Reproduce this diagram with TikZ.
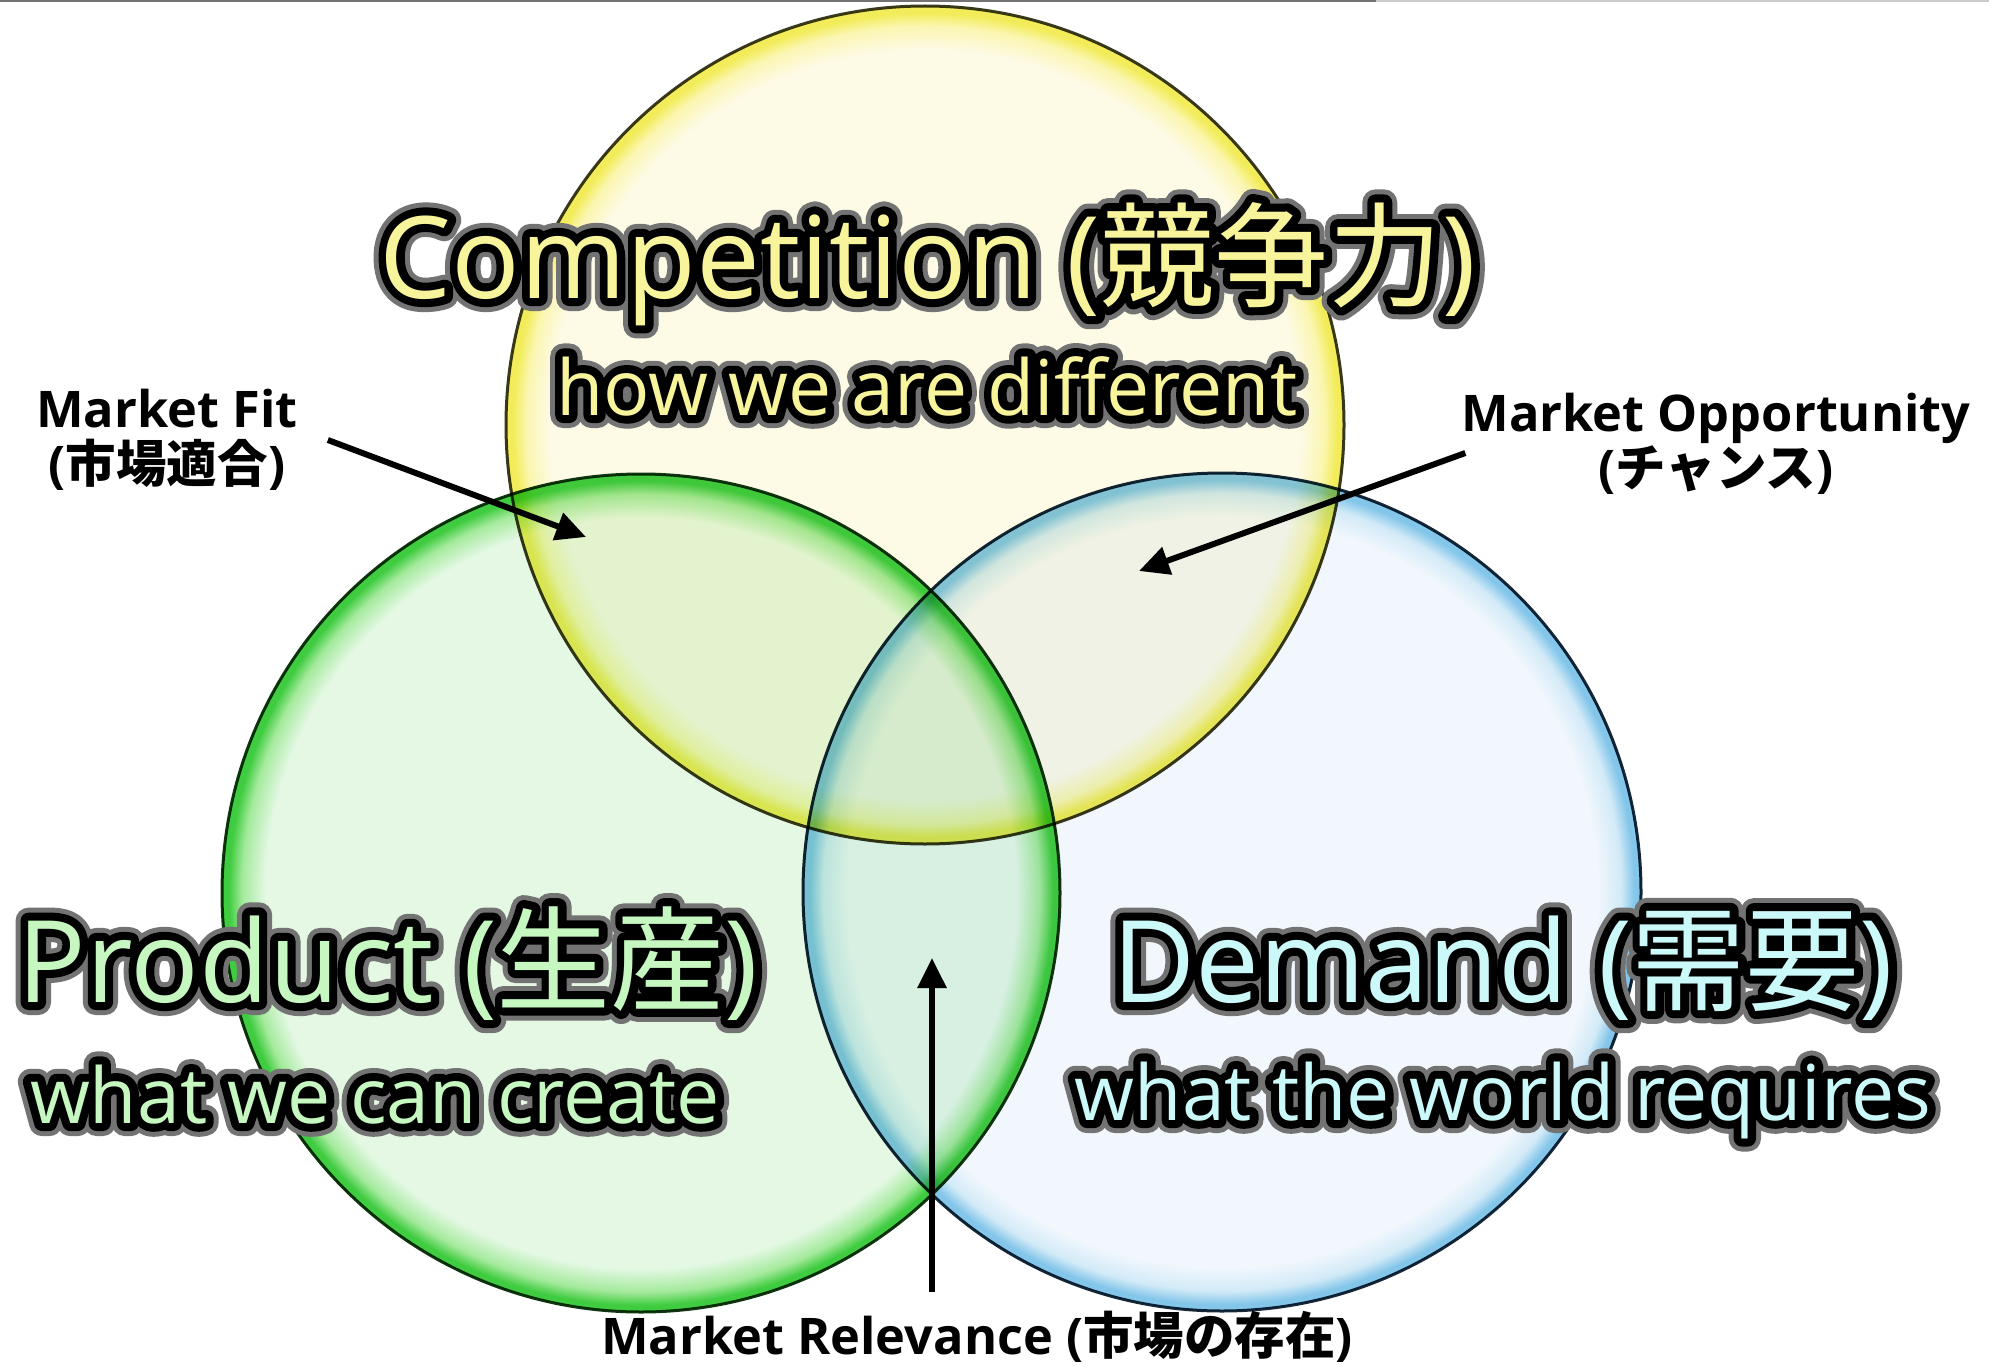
\documentclass[tikz,border=0pt]{standalone}
\usepackage{fontspec}
\setmainfont{Open Sans}
\newfontfamily\jpfont{Noto Sans CJK JP}
\usetikzlibrary{arrows.meta}

\newcommand\jp[1]{{\jpfont #1}}
% soft black halo behind coloured text
\newcommand\glow[1]{\leavevmode
  \rlap{\color{black!55}\special{pdf:literal direct 2 Tr 26 w 1 j}#1\special{pdf:literal direct 0 Tr 1 w}}%
  \rlap{\color{black}\special{pdf:literal direct 2 Tr 16 w 1 j}#1\special{pdf:literal direct 0 Tr 1 w}}#1}

\definecolor{yelin}{HTML}{FDFAE6}
\definecolor{yelmid}{HTML}{FBF6B0}
\definecolor{yelrim}{HTML}{F2EC5A}
\definecolor{yelline}{HTML}{3A3A20}
\definecolor{grnin}{HTML}{E4F8E4}
\definecolor{grnmid}{HTML}{A4EA9C}
\definecolor{grnrim}{HTML}{40CC40}
\definecolor{grnline}{HTML}{103810}
\definecolor{bluin}{HTML}{F1F7FD}
\definecolor{blumid}{HTML}{D2EAF7}
\definecolor{blurim}{HTML}{84C6EA}
\definecolor{bluline}{HTML}{142838}
\definecolor{compcol}{HTML}{F8F49C}
\definecolor{prodcol}{HTML}{C6F7C0}
\definecolor{demcol}{HTML}{CBF9F9}

\pgfdeclareradialshading{yelshade}{\pgfpoint{0bp}{0bp}}{color(0bp)=(yelin); color(22.4bp)=(yelin); color(23.8bp)=(yelmid); color(24.6bp)=(yelrim); color(25bp)=(yelrim); color(50bp)=(yelrim)}
\pgfdeclareradialshading{grnshade}{\pgfpoint{0bp}{0bp}}{color(0bp)=(grnin); color(22.4bp)=(grnin); color(23.8bp)=(grnmid); color(24.6bp)=(grnrim); color(25bp)=(grnrim); color(50bp)=(grnrim)}
\pgfdeclareradialshading{blushade}{\pgfpoint{0bp}{0bp}}{color(0bp)=(bluin); color(22.4bp)=(bluin); color(23.8bp)=(blumid); color(24.6bp)=(blurim); color(25bp)=(blurim); color(50bp)=(blurim)}

\tikzset{
  venn/.style={circle, minimum size=838pt, inner sep=0pt, line width=3pt},
  bigtxt/.style={anchor=base, inner sep=0pt, font=\fontsize{114}{120}\selectfont},
  subtxt/.style={anchor=base, inner sep=0pt, font=\fontsize{77}{80}\selectfont},
  lbl/.style={inner sep=4pt, align=center, font=\bfseries\fontsize{50.5}{55}\selectfont},
  pointer/.style={-{Triangle[length=30pt,width=28pt]}, line width=6pt}
}

\begin{document}
\begin{tikzpicture}[x=1pt,y=-1pt]
\useasboundingbox (0,0) rectangle (1989,1367);
\fill[white] (0,0) rectangle (1989,1367);
\draw[line width=2pt, black!55] (0,1) -- (1376,1);
\draw[line width=2pt, black!20] (1376,1) -- (1989,1);

% the three circles
\begin{scope}[blend mode=multiply]
  \node[venn, shading=yelshade, draw=yelline] (comp) at (925,425) {};
  \node[venn, shading=grnshade, draw=grnline] (prod) at (641,893) {};
  \node[venn, shading=blushade, draw=bluline] (dem) at (1222,892) {};
\end{scope}

% titles
\node[bigtxt, text=compcol] (comptitle) at (928,298) {\glow{Competition (\jp{競争力})}};
\node[subtxt, text=compcol] (compsub) at (927,415) {\glow{how we are different}};
\node[bigtxt, text=prodcol] (prodtitle) at (388,1002) {\glow{Product (\jp{生産})}};
\node[subtxt, text=prodcol] (prodsub) at (375,1123) {\glow{what we can create}};
\node[bigtxt, text=demcol] (demtitle) at (1503,1002) {\glow{Demand (\jp{需要})}};
\node[subtxt, text=demcol] (demsub) at (1503,1120) {\glow{what the world requires}};

% overlap labels
\node[lbl] (fitlbl) at (167,440) {Market Fit\\(\jp{市場適合})};
\node[lbl] (opplbl) at (1716,444) {Market Opportunity\\(\jp{チャンス})};
\node[lbl, anchor=base] (rellbl) at (977,1354) {Market Relevance (\jp{市場の存在})};

\coordinate (fitpt) at (586,537);
\coordinate (opppt) at (1139,571);
\coordinate (relpt) at (932,958);
\coordinate (reltail) at ([yshift=14pt]rellbl.north);

\draw[pointer] ([xshift=26pt]fitlbl.east) -- (fitpt);
\draw[pointer] ([xshift=8pt,yshift=-9pt]opplbl.west) -- (opppt);
\draw[pointer] (reltail -| relpt) -- (relpt);
\end{tikzpicture}
\end{document}
